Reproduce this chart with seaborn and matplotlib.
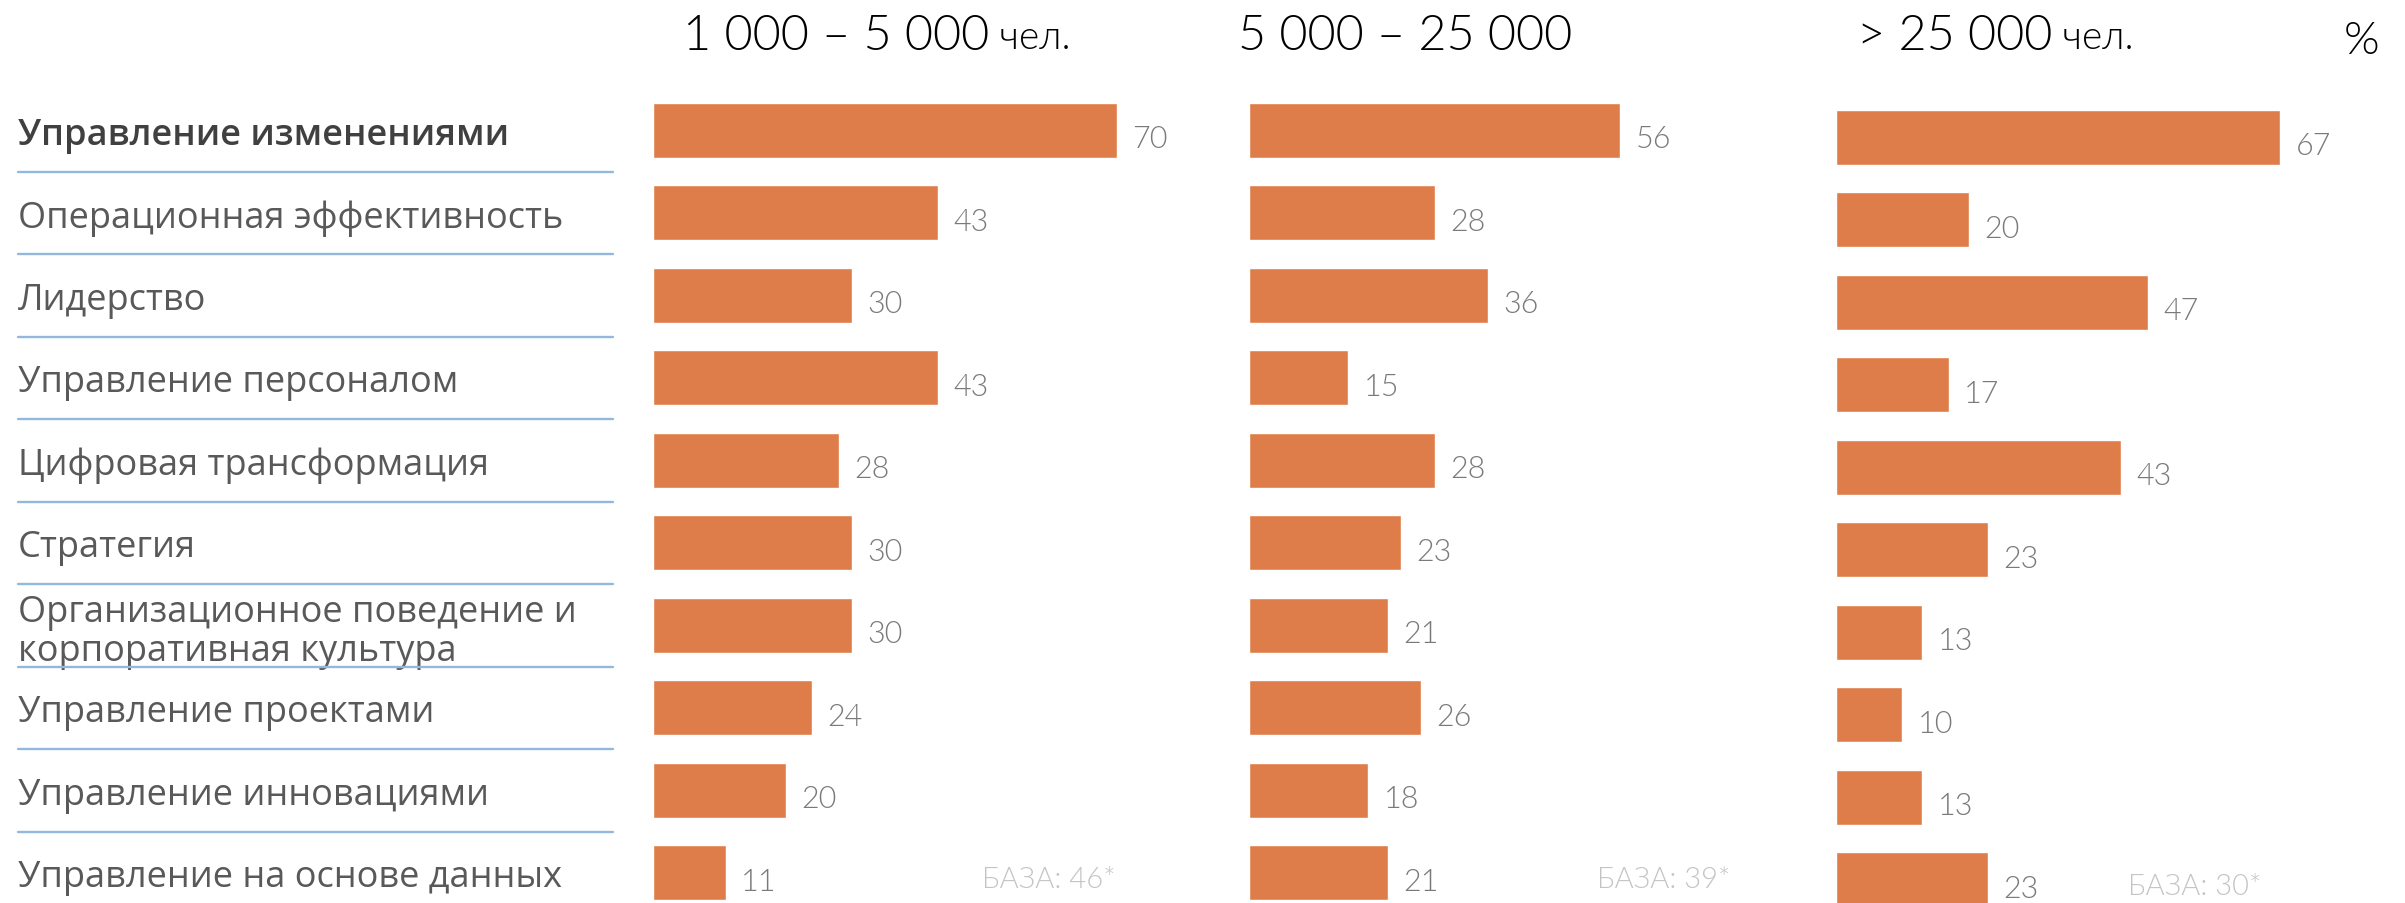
import matplotlib
matplotlib.use("Agg")
import matplotlib.pyplot as plt
import matplotlib.transforms as mtransforms
from matplotlib.lines import Line2D
import pandas as pd
import seaborn as sns

# data (percent of respondents)
categories = [
    "Управление изменениями",
    "Операционная эффективность",
    "Лидерство",
    "Управление персоналом",
    "Цифровая трансформация",
    "Стратегия",
    "Организационное поведение и\nкорпоративная культура",
    "Управление проектами",
    "Управление инновациями",
    "Управление на основе данных",
]
small_values = [70, 43, 30, 43, 28, 30, 30, 24, 20, 11]
medium_values = [56, 28, 36, 15, 28, 23, 21, 26, 18, 21]
large_values = [67, 20, 47, 17, 43, 23, 13, 10, 13, 23]
group_titles = ["1 000 – 5 000", "5 000 – 25 000", "> 25 000"]
group_suffix = [" чел.", "", " чел."]
base_labels = ["БАЗА: 46*", "БАЗА: 39*", "БАЗА: 30*"]

df = pd.DataFrame({
    "category": categories,
    "small": small_values,
    "medium": medium_values,
    "large": large_values,
})

BAR = "#DF7D4A"
W, H = 2405, 904
THIN = ["Lato", "DejaVu Sans"]

sns.set_theme(style="white")
plt.rcParams["font.family"] = ["Open Sans", "DejaVu Sans"]

fig = plt.figure(figsize=(W / 100, H / 100), dpi=100)


def px_axes(left, top, width, height):
    return fig.add_axes([left / W, 1 - (top + height) / H, width / W, height / H])


XMAX = 80
px_per_unit = 6.63
panel_left = [653, 1249, 1836]
panel_shift = [0, 0, 7]
title_x = [683, 1238, 1857]
base_x = [982, 1597, 2128]

axes = []
for i, col in enumerate(["small", "medium", "large"]):
    ax = px_axes(panel_left[i], 90 + panel_shift[i], XMAX * px_per_unit, 814)
    sns.barplot(data=df, x=col, y="category", color=BAR, saturation=1,
                width=0.667, ax=ax)
    ax.set_xlim(0, XMAX)
    ax.set_ylim(9.366, -0.5)
    sns.despine(ax=ax, left=True, bottom=True)
    ax.set_xticks([])
    ax.set_xlabel("")
    ax.set_ylabel("")
    ax.tick_params(axis="y", length=0)

    for container in ax.containers:
        labels = ax.bar_label(container, padding=11, color="#7A7A7A",
                              fontsize=22, family=THIN, fontweight=300)
        for t in labels:
            t.xyann = (11, -6)

    ax.text((base_x[i] - panel_left[i]) / px_per_unit, 9.07, base_labels[i],
            color="#C4C4C4", fontsize=21, va="center", ha="left",
            family=THIN, fontweight=300)

    # group header: big number range plus smaller unit
    t = fig.text(title_x[i] / W, 1 - 50 / H, group_titles[i], fontsize=35,
                 va="baseline", ha="left", color="black",
                 family=THIN, fontweight=300)
    if group_suffix[i]:
        ax.annotate(group_suffix[i], xy=(1, 0), xycoords=t, xytext=(0, 3),
                    textcoords="offset pixels", va="bottom", ha="left",
                    fontsize=28, color="black", family=THIN,
                    fontweight=300, annotation_clip=False)
    axes.append(ax)

fig.text(2362 / W, 1 - 42 / H, "%", fontsize=33, ha="center", va="center",
         color="black", family=THIN, fontweight=300)

ax1 = axes[0]
ax1.tick_params(axis="y", pad=(653 - 18) * 0.72)
for k, lab in enumerate(ax1.get_yticklabels()):
    lab.set_ha("left")
    lab.set_fontsize(26)
    lab.set_linespacing(1.12)
    if k == 0:
        lab.set_color("#404040")
        lab.set_fontweight("semibold")
    else:
        lab.set_color("#595959")
for ax in axes[1:]:
    ax.tick_params(axis="y", labelleft=False)

# thin blue rules between the category rows
trans = mtransforms.blended_transform_factory(fig.transFigure, ax1.transData)
for k in range(len(categories) - 1):
    fig.add_artist(Line2D([18 / W, 613 / W], [k + 0.5, k + 0.5], transform=trans,
                          color="#94B8DB", lw=1.7))

fig.savefig("out.png", dpi=100)
